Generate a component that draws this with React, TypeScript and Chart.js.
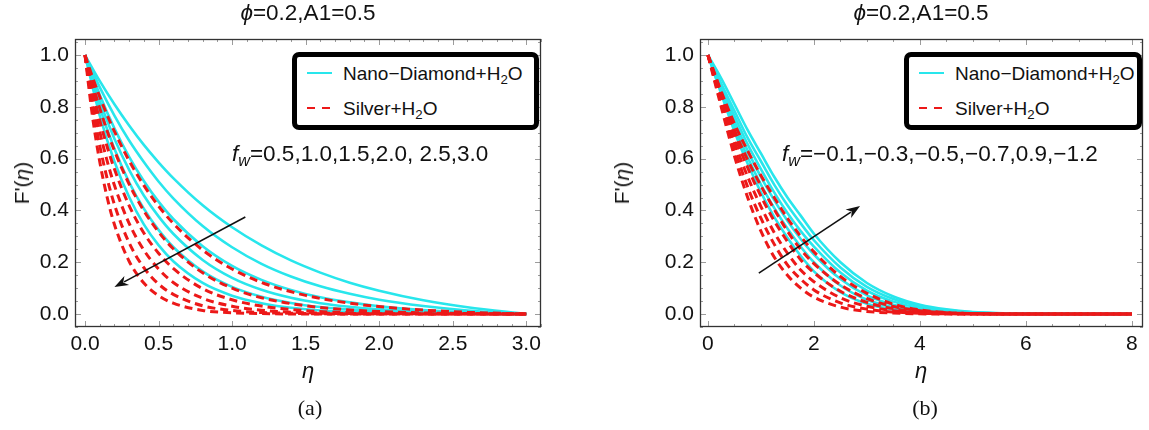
import React, { useEffect, useRef } from 'react';
import { Chart, registerables } from 'chart.js';

Chart.register(...registerables);

const SANS = '"Liberation Sans", Arial, Helvetica, sans-serif';
const SERIF = '"Liberation Serif", "Times New Roman", serif';
const CYAN = 'rgb(40,230,236)';
const RED = 'rgb(236,24,24)';

// ---------- Panel (a): fw = 0.5 ... 3.0 ----------
const xTicksA = [0, 0.5, 1.0, 1.5, 2.0, 2.5, 3.0];
const yTicks = [0, 0.2, 0.4, 0.6, 0.8, 1.0];
const etaNanoA = [0, 0.1, 0.2, 0.3, 0.4, 0.5, 0.6, 0.8, 1.0, 1.2, 1.4, 1.6, 1.8, 2.0, 2.3, 2.6, 3.0];
const nanoA_fw05 = [1, 0.900, 0.810, 0.728, 0.653, 0.586, 0.525, 0.420, 0.335, 0.265, 0.207, 0.160, 0.121, 0.090, 0.053, 0.026, 0];
const nanoA_fw10 = [1, 0.876, 0.766, 0.670, 0.587, 0.512, 0.447, 0.340, 0.258, 0.194, 0.145, 0.107, 0.078, 0.055, 0.031, 0.014, 0];
const nanoA_fw15 = [1, 0.847, 0.717, 0.607, 0.514, 0.434, 0.367, 0.262, 0.186, 0.132, 0.093, 0.065, 0.045, 0.030, 0.015, 0.007, 0];
const nanoA_fw20 = [1, 0.823, 0.677, 0.557, 0.458, 0.377, 0.310, 0.209, 0.140, 0.094, 0.063, 0.042, 0.028, 0.018, 0.009, 0.004, 0];
const nanoA_fw25 = [1, 0.799, 0.638, 0.509, 0.407, 0.325, 0.259, 0.165, 0.105, 0.067, 0.043, 0.027, 0.017, 0.011, 0.005, 0.002, 0];
const nanoA_fw30 = [1, 0.767, 0.589, 0.452, 0.346, 0.266, 0.204, 0.120, 0.071, 0.042, 0.024, 0.014, 0.008, 0.005, 0.002, 0.001, 0];

const etaSilverA = [0, 0.05, 0.1, 0.15, 0.2, 0.3, 0.4, 0.5, 0.6, 0.8, 1.0, 1.2, 1.5, 1.8, 2.2, 2.6, 3.0];
const silverA_fw05 = [1, 0.916, 0.839, 0.769, 0.705, 0.592, 0.497, 0.417, 0.350, 0.247, 0.174, 0.122, 0.072, 0.042, 0.019, 0.007, 0];
const silverA_fw10 = [1, 0.891, 0.795, 0.708, 0.631, 0.502, 0.399, 0.317, 0.252, 0.159, 0.100, 0.063, 0.032, 0.016, 0.006, 0.002, 0];
const silverA_fw15 = [1, 0.865, 0.748, 0.647, 0.560, 0.419, 0.313, 0.235, 0.176, 0.098, 0.055, 0.031, 0.013, 0.005, 0.002, 0.001, 0];
const silverA_fw20 = [1, 0.839, 0.705, 0.592, 0.497, 0.350, 0.247, 0.174, 0.122, 0.061, 0.030, 0.015, 0.005, 0.002, 0.001, 0, 0];
const silverA_fw25 = [1, 0.807, 0.651, 0.525, 0.423, 0.275, 0.179, 0.116, 0.076, 0.032, 0.014, 0.006, 0.002, 0, 0, 0, 0];
const silverA_fw30 = [1, 0.767, 0.589, 0.452, 0.346, 0.204, 0.120, 0.071, 0.042, 0.014, 0.005, 0.002, 0, 0, 0, 0, 0];
const arrowA = [1.09, 0.375, 0.2, 0.104]; // from (eta,F) to (eta,F)

// ---------- Panel (b): fw = -0.1 ... -1.2 ----------
const xTicksB = [0, 2, 4, 6, 8];
const etaB = [0, 0.25, 0.5, 0.75, 1.0, 1.25, 1.5, 1.75, 2.0, 2.5, 3.0, 3.5, 4.0, 4.5, 5.0, 6.0, 7.0, 8.0];
const nanoB_fw01 = [1, 0.85, 0.705, 0.58, 0.47, 0.375, 0.295, 0.225, 0.165, 0.085, 0.04, 0.018, 0.008, 0.003, 0.001, 0, 0, 0];
const nanoB_fw03 = [1, 0.86, 0.725, 0.605, 0.50, 0.41, 0.33, 0.26, 0.20, 0.11, 0.055, 0.026, 0.012, 0.005, 0.002, 0, 0, 0];
const nanoB_fw05 = [1, 0.87, 0.745, 0.63, 0.53, 0.44, 0.36, 0.29, 0.23, 0.135, 0.072, 0.036, 0.017, 0.008, 0.003, 0.001, 0, 0];
const nanoB_fw07 = [1, 0.88, 0.765, 0.655, 0.56, 0.47, 0.39, 0.32, 0.26, 0.16, 0.09, 0.048, 0.024, 0.011, 0.005, 0.001, 0, 0];
const nanoB_fw09 = [1, 0.89, 0.785, 0.68, 0.59, 0.50, 0.42, 0.35, 0.285, 0.18, 0.105, 0.058, 0.03, 0.015, 0.007, 0.001, 0, 0];
const nanoB_fw12 = [1, 0.91, 0.81, 0.71, 0.62, 0.53, 0.45, 0.38, 0.31, 0.20, 0.12, 0.068, 0.036, 0.018, 0.008, 0.001, 0, 0];

const silverB_fw01 = [1, 0.80, 0.61, 0.45, 0.32, 0.22, 0.15, 0.10, 0.065, 0.027, 0.01, 0.004, 0.001, 0, 0, 0, 0, 0];
const silverB_fw03 = [1, 0.815, 0.64, 0.49, 0.37, 0.27, 0.19, 0.135, 0.093, 0.043, 0.019, 0.008, 0.003, 0.001, 0, 0, 0, 0];
const silverB_fw05 = [1, 0.83, 0.665, 0.53, 0.415, 0.315, 0.235, 0.17, 0.125, 0.063, 0.03, 0.013, 0.005, 0.002, 0, 0, 0, 0];
const silverB_fw07 = [1, 0.84, 0.69, 0.565, 0.455, 0.36, 0.28, 0.21, 0.16, 0.088, 0.045, 0.021, 0.009, 0.004, 0.001, 0, 0, 0];
const silverB_fw09 = [1, 0.85, 0.71, 0.595, 0.495, 0.405, 0.32, 0.25, 0.195, 0.113, 0.06, 0.029, 0.013, 0.005, 0.002, 0, 0, 0];
const silverB_fw12 = [1, 0.86, 0.735, 0.63, 0.535, 0.45, 0.37, 0.30, 0.24, 0.145, 0.08, 0.038, 0.016, 0.006, 0.002, 0, 0, 0];
const arrowB = [0.96, 0.158, 2.87, 0.417];

const toPts = (xs: number[], ys: number[]) => xs.map((x, i) => ({ x, y: ys[i] }));

const framePlugin = {
  id: 'frame',
  afterDatasetsDraw(chart: any, _a: any, opts: any) {
    const { ctx, chartArea: a, scales } = chart;
    const sx = scales.x, sy = scales.y;
    ctx.save();
    ctx.strokeStyle = '#9c9c9c';
    ctx.lineWidth = 1;
    ctx.beginPath();
    for (let v = Math.ceil(sx.min / opts.xMinor) * opts.xMinor; v <= sx.max + 1e-9; v += opts.xMinor) {
      const isMajor = Math.abs(v / opts.xMajor - Math.round(v / opts.xMajor)) < 1e-6;
      const len = isMajor ? 6 : 3;
      const px = Math.round(sx.getPixelForValue(v)) + 0.5;
      ctx.moveTo(px, a.bottom); ctx.lineTo(px, a.bottom - len);
      ctx.moveTo(px, a.top); ctx.lineTo(px, a.top + len);
    }
    for (let v = Math.ceil(sy.min / opts.yMinor) * opts.yMinor; v <= sy.max + 1e-9; v += opts.yMinor) {
      const isMajor = Math.abs(v / opts.yMajor - Math.round(v / opts.yMajor)) < 1e-6;
      const len = isMajor ? 6 : 3;
      const py = Math.round(sy.getPixelForValue(v)) + 0.5;
      ctx.moveTo(a.left, py); ctx.lineTo(a.left + len, py);
      ctx.moveTo(a.right, py); ctx.lineTo(a.right - len, py);
    }
    ctx.stroke();
    ctx.strokeStyle = '#333';
    ctx.lineWidth = 1.3;
    ctx.strokeRect(a.left + 0.5, a.top + 0.5, a.right - a.left - 1, a.bottom - a.top - 1);
    ctx.restore();
  },
};

const arrowPlugin = {
  id: 'arrow',
  afterDatasetsDraw(chart: any, _a: any, opts: any) {
    const { ctx, scales } = chart;
    const [x0v, y0v, x1v, y1v] = opts.pts;
    const x0 = scales.x.getPixelForValue(x0v), y0 = scales.y.getPixelForValue(y0v);
    const x1 = scales.x.getPixelForValue(x1v), y1 = scales.y.getPixelForValue(y1v);
    const ang = Math.atan2(y1 - y0, x1 - x0);
    const L = 14, W = 5;
    ctx.save();
    ctx.strokeStyle = '#111';
    ctx.fillStyle = '#111';
    ctx.lineWidth = 1.6;
    ctx.beginPath();
    ctx.moveTo(x0, y0);
    ctx.lineTo(x1 - Math.cos(ang) * (L - 3), y1 - Math.sin(ang) * (L - 3));
    ctx.stroke();
    ctx.beginPath();
    ctx.moveTo(x1, y1);
    ctx.lineTo(x1 - Math.cos(ang) * L - Math.sin(ang) * W, y1 - Math.sin(ang) * L + Math.cos(ang) * W);
    ctx.lineTo(x1 - Math.cos(ang) * (L - 4), y1 - Math.sin(ang) * (L - 4));
    ctx.lineTo(x1 - Math.cos(ang) * L + Math.sin(ang) * W, y1 - Math.sin(ang) * L - Math.cos(ang) * W);
    ctx.closePath();
    ctx.fill();
    ctx.restore();
  },
};

type Spec = {
  etaNano: number[]; nano: number[][];
  etaSilver: number[]; silver: number[][];
  xMin: number; xMax: number; xTicks: number[]; xFmt: (v: number) => string;
  xMajor: number; xMinor: number;
  areaLeft: number; padRight: number; arrow: number[];
};

function build(canvas: HTMLCanvasElement, s: Spec) {
  const tickFont = { family: SANS, size: 21 };
  return new Chart(canvas, {
    type: 'line',
    data: {
      datasets: [
        ...s.silver.map((ys) => ({
          data: toPts(s.etaSilver, ys), borderColor: RED, borderWidth: 3, borderDash: [8, 5],
          pointRadius: 0, fill: false, cubicInterpolationMode: 'monotone' as const,
        })),
        ...s.nano.map((ys) => ({
          data: toPts(s.etaNano, ys), borderColor: CYAN, borderWidth: 2.6,
          pointRadius: 0, fill: false, cubicInterpolationMode: 'monotone' as const,
        })),
      ],
    },
    options: {
      responsive: false,
      animation: false,
      events: [],
      layout: { padding: { left: 0, right: s.padRight, top: 39, bottom: 0 } },
      plugins: {
        legend: { display: false },
        tooltip: { enabled: false },
        frame: { xMajor: s.xMajor, xMinor: s.xMinor, yMajor: 0.2, yMinor: 0.05 },
        arrow: { pts: s.arrow },
      } as any,
      scales: {
        x: {
          type: 'linear', min: s.xMin, max: s.xMax,
          grid: { display: false, drawTicks: false },
          border: { display: false },
          ticks: { font: tickFont, color: '#111', padding: 5, maxRotation: 0, autoSkip: false, callback: (v: any) => s.xFmt(Number(v)) },
          afterBuildTicks: (sc: any) => { sc.ticks = s.xTicks.map((v) => ({ value: v })); },
          afterFit: (sc: any) => { sc.height = 103; },
        },
        y: {
          type: 'linear', min: -0.05, max: 1.062,
          grid: { display: false, drawTicks: false },
          border: { display: false },
          ticks: { font: tickFont, color: '#111', padding: 6, autoSkip: false, callback: (v: any) => Number(v).toFixed(1) },
          afterBuildTicks: (sc: any) => { sc.ticks = yTicks.map((v) => ({ value: v })); },
          afterFit: (sc: any) => { sc.width = s.areaLeft; },
        },
      },
    },
    plugins: [framePlugin, arrowPlugin],
  } as any);
}

const abs = (left: number, top: number, extra: React.CSSProperties = {}): React.CSSProperties => ({
  position: 'absolute', left, top, whiteSpace: 'nowrap', ...extra,
});

const Sub = ({ children }: { children: React.ReactNode }) => (
  <span style={{ fontSize: '0.7em', position: 'relative', top: '0.3em' }}>{children}</span>
);

function Legend({ left, width }: { left: number; width: number }) {
  return (
    <div style={abs(left, 52, {
      width, height: 78, boxSizing: 'border-box', border: '5px solid #000',
      borderRadius: 7, background: '#fff', fontFamily: SANS, fontSize: 19, color: '#111',
    })}>
      <div style={abs(10, 15, { width: 25, height: 0, borderTop: `2.5px solid ${CYAN}` })} />
      <div style={abs(46, 5, { lineHeight: '24px' })}>Nano−Diamond+H<Sub>2</Sub>O</div>
      <div style={abs(10, 50, { width: 8, height: 0, borderTop: `2.5px solid ${RED}` })} />
      <div style={abs(25, 50, { width: 8, height: 0, borderTop: `2.5px solid ${RED}` })} />
      <div style={abs(46, 40, { lineHeight: '24px' })}>Silver+H<Sub>2</Sub>O</div>
    </div>
  );
}

const center = (x: number, y: number, extra: React.CSSProperties = {}): React.CSSProperties => ({
  position: 'absolute', left: x, top: y, transform: 'translate(-50%, -50%)', whiteSpace: 'nowrap', ...extra,
});

const FW = () => (
  <span><span style={{ fontStyle: 'italic' }}>f</span><span style={{ fontStyle: 'italic', fontSize: '0.72em', position: 'relative', top: '0.3em' }}>w</span></span>
);

export default function App() {
  const refA = useRef<HTMLCanvasElement>(null);
  const refB = useRef<HTMLCanvasElement>(null);

  useEffect(() => {
    const a = build(refA.current!, {
      etaNano: etaNanoA, nano: [nanoA_fw05, nanoA_fw10, nanoA_fw15, nanoA_fw20, nanoA_fw25, nanoA_fw30],
      etaSilver: etaSilverA, silver: [silverA_fw05, silverA_fw10, silverA_fw15, silverA_fw20, silverA_fw25, silverA_fw30],
      xMin: -0.068, xMax: 3.10, xTicks: xTicksA, xFmt: (v) => v.toFixed(1), xMajor: 0.5, xMinor: 0.1,
      areaLeft: 75, padRight: 39, arrow: arrowA,
    });
    const b = build(refB.current!, {
      etaNano: etaB, nano: [nanoB_fw01, nanoB_fw03, nanoB_fw05, nanoB_fw07, nanoB_fw09, nanoB_fw12],
      etaSilver: etaB, silver: [silverB_fw01, silverB_fw03, silverB_fw05, silverB_fw07, silverB_fw09, silverB_fw12],
      xMin: -0.15, xMax: 8.21, xTicks: xTicksB, xFmt: (v) => String(Math.round(v)), xMajor: 2, xMinor: 0.5,
      areaLeft: 120, padRight: 6, arrow: arrowB,
    });
    return () => { a.destroy(); b.destroy(); };
  }, []);

  const text: React.CSSProperties = { fontFamily: SANS, fontSize: 21, color: '#111' };
  const big: React.CSSProperties = { ...text, fontSize: 22.5 };

  return (
    <div style={{ position: 'fixed', left: 0, top: 0, width: 1149, height: 430, background: '#fff', overflow: 'hidden' }}>
      <canvas ref={refA} width={580} height={430} style={{ position: 'absolute', left: 0, top: 0 }} />
      <canvas ref={refB} width={569} height={430} style={{ position: 'absolute', left: 580, top: 0 }} />

      <div style={center(308, 13, big)}><span style={{ fontStyle: 'italic' }}>ϕ</span>=0.2,A1=0.5</div>
      <div style={center(921, 13, big)}><span style={{ fontStyle: 'italic' }}>ϕ</span>=0.2,A1=0.5</div>

      <div style={center(22, 183, { ...text, transform: 'translate(-50%, -50%) rotate(-90deg)' })}>F'(<span style={{ fontStyle: 'italic' }}>η</span>)</div>
      <div style={center(622, 183, { ...text, transform: 'translate(-50%, -50%) rotate(-90deg)' })}>F'(<span style={{ fontStyle: 'italic' }}>η</span>)</div>

      <div style={center(308, 371, { ...text, fontSize: 22, fontStyle: 'italic' })}>η</div>
      <div style={center(921, 371, { ...text, fontSize: 22, fontStyle: 'italic' })}>η</div>

      <div style={center(310, 408, { fontFamily: SERIF, fontSize: 22, color: '#111' })}>(a)</div>
      <div style={center(925, 408, { fontFamily: SERIF, fontSize: 22, color: '#111' })}>(b)</div>

      <Legend left={292} width={247} />
      <Legend left={904} width={238} />

      <div style={abs(232, 141, { ...big, lineHeight: '26px' })}><FW />=0.5,1.0,1.5,2.0, 2.5,3.0</div>
      <div style={abs(782, 141, { ...big, lineHeight: '26px' })}><FW />=−0.1,−0.3,−0.5,−0.7,0.9,−1.2</div>
    </div>
  );
}
